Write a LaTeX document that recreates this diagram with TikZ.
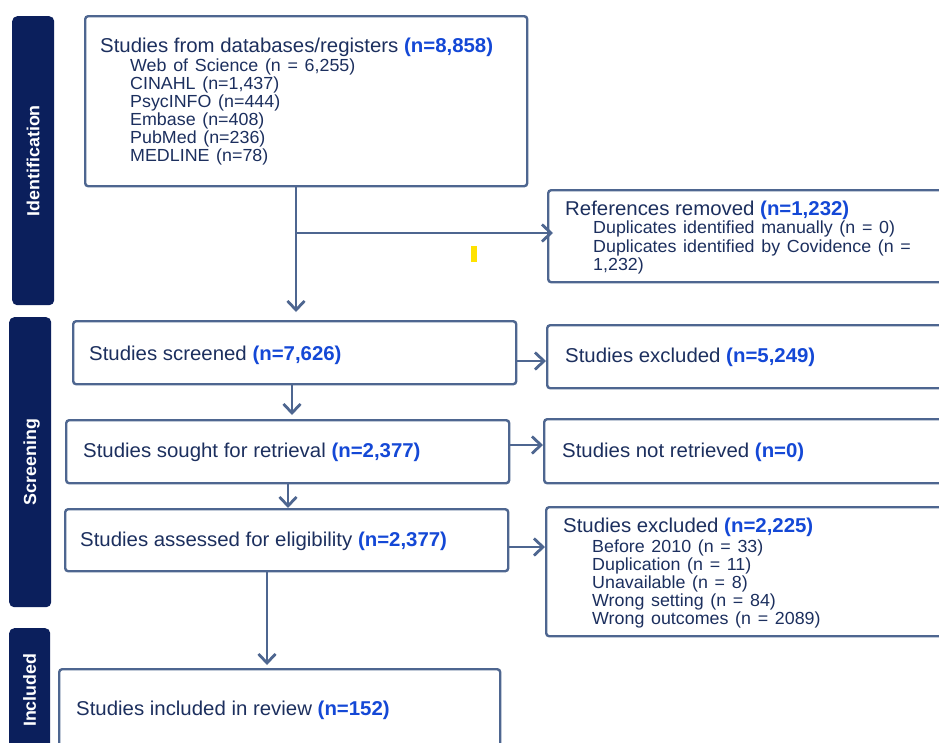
\documentclass[tikz,border=0pt]{standalone}
\usepackage{fontspec}
\setmainfont{Liberation Sans}[FakeStretch=1.02]
\newfontfamily\subfam{Liberation Sans}[FakeStretch=1.02, WordSpace=1.35]
\usetikzlibrary{arrows.meta,calc}
\definecolor{navy}{HTML}{0B1F5C}
\definecolor{edgec}{HTML}{4E6690}
\definecolor{ink}{HTML}{1C2F5E}
\definecolor{hl}{HTML}{1448D6}
\definecolor{markc}{HTML}{FFE200}
\newcommand{\hlnum}[1]{\textcolor{hl}{\bfseries #1}}
\tikzset{
 box/.style={draw=edgec, line width=2.4pt, rounded corners=3pt, fill=white, inner sep=0pt, anchor=north west},
 bar/.style={fill=navy, rounded corners=5pt, inner sep=0pt, anchor=north west},
 bartext/.style={text=white, font=\fontsize{17.5}{20}\selectfont\bfseries, rotate=90, inner sep=0pt},
 main/.style={anchor=base west, inner sep=0pt, text=ink, font=\fontsize{20}{24}\selectfont},
 sub/.style={anchor=base west, inner sep=0pt, text=ink, font=\subfam\fontsize{17.5}{18}\selectfont},
 conn/.style={draw=edgec, line width=2.8pt},
 arr/.style={conn, -{Straight Barb[length=9pt,width=17pt,line width=2.8pt]}},
}
\begin{document}
\begin{tikzpicture}[x=1pt,y=-1pt]
\useasboundingbox (0,0) rectangle (939,742);
\fill[white] (0,0) rectangle (939,742);
\clip (0,0) rectangle (939,742);

% side bars
\node[bar, minimum width=42pt, minimum height=289pt] (idbar) at (12,16) {};
\node[bar, minimum width=42pt, minimum height=290pt] (scbar) at (9,317) {};
\node[bar, minimum width=41pt, minimum height=124pt] (inbar) at (9,628) {};
\node[bartext] (idlab) at (idbar.center) {Identification};
\node[bartext] (sclab) at ($(scbar.center)+(1.5,0)$) {Screening};
\node[bartext] (inlab) at (inbar.center) {Included};

% boxes
\node[box, minimum width=442pt, minimum height=170pt] (b1) at (84,15) {};
\node[box, minimum width=400pt, minimum height=92pt] (b2) at (547,189) {};
\node[box, minimum width=443pt, minimum height=63pt] (b3) at (72,320) {};
\node[box, minimum width=400pt, minimum height=63pt] (b4) at (546,324) {};
\node[box, minimum width=443pt, minimum height=63pt] (b5) at (65,419) {};
\node[box, minimum width=410pt, minimum height=64pt] (b6) at (543,418) {};
\node[box, minimum width=443pt, minimum height=62pt] (b7) at (64,508) {};
\node[box, minimum width=410pt, minimum height=129pt] (b8) at (545,506) {};
\node[box, minimum width=441pt, minimum height=90pt] (b9) at (58,668) {};

% texts
\node[main] (t1) at (100,52) {Studies from databases/registers \hlnum{(n=8,858)}};
\node[sub] (t1a) at (130,71) {Web of Science (n = 6,255)};
\node[sub] (t1b) at (130,89) {CINAHL (n=1,437)};
\node[sub] (t1c) at (130,107) {PsycINFO (n=444)};
\node[sub] (t1d) at (130,125) {Embase (n=408)};
\node[sub] (t1e) at (130,143) {PubMed (n=236)};
\node[sub] (t1f) at (130,161.5) {MEDLINE (n=78)};

\node[main] (t2) at (565,215) {References removed \hlnum{(n=1,232)}};
\node[sub] (t2a) at (593,233.5) {Duplicates identified manually (n = 0)};
\node[sub] (t2b) at (593,252) {Duplicates identified by Covidence (n =};
\node[sub] (t2c) at (593,270.5) {1,232)};

\node[main] (t3) at (89,360) {Studies screened \hlnum{(n=7,626)}};
\node[main] (t4) at (565,362) {Studies excluded \hlnum{(n=5,249)}};
\node[main] (t5) at (83,457.5) {Studies sought for retrieval \hlnum{(n=2,377)}};
\node[main] (t6) at (562,457) {Studies not retrieved \hlnum{(n=0)}};
\node[main] (t7) at (80,546.5) {Studies assessed for eligibility \hlnum{(n=2,377)}};

\node[main] (t8) at (563,532) {Studies excluded \hlnum{(n=2,225)}};
\node[sub] (t8a) at (592,552) {Before 2010 (n = 33)};
\node[sub] (t8b) at (592,570) {Duplication (n = 11)};
\node[sub] (t8c) at (592,588) {Unavailable (n = 8)};
\node[sub] (t8d) at (592,606) {Wrong setting (n = 84)};
\node[sub] (t8e) at (592,624) {Wrong outcomes (n = 2089)};

\node[main] (t9) at (76,715) {Studies included in review \hlnum{(n=152)}};

% yellow mark
\node[fill=markc, minimum width=6pt, minimum height=16pt, inner sep=0pt] (ymark) at (474,254) {};

% connectors
\coordinate (j1) at (296,233);
\draw[arr] (b1.south -| j1) -- ($(b3.north -| j1)+(0,-8)$);
\draw[arr, shorten >=-6pt] (j1) -- (j1 -| b2.west);

\coordinate (r1) at (0,361);
\draw[arr] (b3.east |- r1) -- (b4.west |- r1);
\coordinate (c1) at (292,0);
\draw[arr, shorten >=4pt] (b3.south -| c1) -- (b5.north -| c1);

\coordinate (r2) at (0,445);
\draw[arr] (b5.east |- r2) -- (b6.west |- r2);
\coordinate (c2) at (288,0);
\draw[arr] (b5.south -| c2) -- (b7.north -| c2);

\coordinate (r3) at (0,547);
\draw[arr] (b7.east |- r3) -- (b8.west |- r3);
\coordinate (c3) at (267,0);
\draw[arr, shorten >=3pt] (b7.south -| c3) -- (b9.north -| c3);
\end{tikzpicture}
\end{document}
